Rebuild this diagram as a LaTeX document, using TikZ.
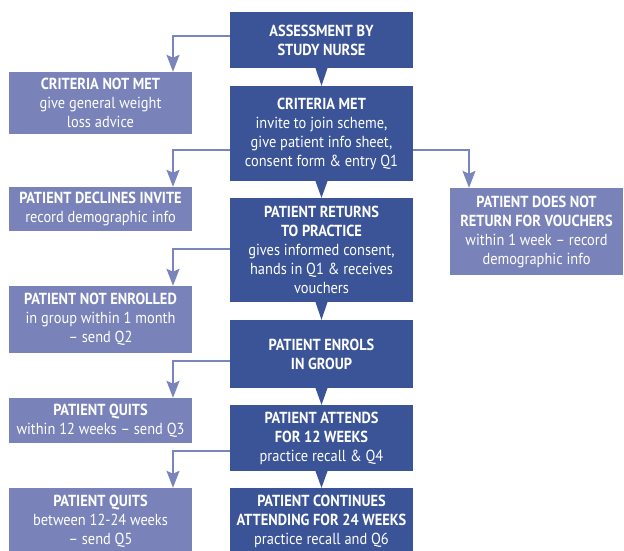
\documentclass[tikz,border=0pt]{standalone}
\usepackage{fontspec}
\setmainfont{PT Sans}[FakeStretch=0.9]
\usetikzlibrary{arrows.meta,calc}
\definecolor{dkb}{RGB}{59,84,152}
\definecolor{ltb}{RGB}{122,131,185}
\definecolor{arr}{RGB}{122,133,190}
\begin{document}
\begin{tikzpicture}[x=1pt,y=-1pt,
  box/.style={minimum width=183pt, inner sep=0pt, align=center, text=white, font=\fontsize{16}{19}\selectfont},
  mainbox/.style={box, fill=dkb},
  sidebox/.style={box, fill=ltb},
  conn/.style={draw=arr, line width=1.8pt, -{Stealth[length=17pt,width=13pt,inset=3pt]}},
  tri/.style={fill=dkb}]
\useasboundingbox (0,0) rectangle (624,551);
% main column
\node[mainbox, minimum height=56pt] (assess) at (321.5,40) {\textbf{ASSESSMENT BY}\\\textbf{STUDY NURSE}};
\node[mainbox, minimum height=95pt] (crit) at (321.5,133.5) {\textbf{CRITERIA MET}\\invite to join scheme,\\give patient info sheet,\\consent form \& entry Q1};
\node[mainbox, minimum height=104pt] (returns) at (321.5,250) {\textbf{PATIENT RETURNS}\\\textbf{TO PRACTICE}\\gives informed consent,\\hands in Q1 \& receives\\vouchers};
\node[mainbox, minimum height=68pt] (enrols) at (321.5,354) {\textbf{PATIENT ENROLS}\\\textbf{IN GROUP}};
\node[mainbox, minimum height=66pt] (attends) at (321.5,438) {\textbf{PATIENT ATTENDS}\\\textbf{FOR 12 WEEKS}\\practice recall \& Q4};
\node[mainbox, minimum height=66pt] (cont) at (321.5,521) {\textbf{PATIENT CONTINUES}\\\textbf{ATTENDING FOR 24 WEEKS}\\practice recall and Q6};
% side boxes
\node[sidebox, minimum height=62pt] (notmet) at (100.5,103) {\textbf{CRITERIA NOT MET}\\give general weight\\loss advice};
\node[sidebox, minimum height=44pt] (declines) at (100.5,209) {\textbf{PATIENT DECLINES INVITE}\\record demographic info};
\node[sidebox, minimum height=67pt] (notenr) at (100.5,319.5) {\textbf{PATIENT NOT ENROLLED}\\in group within 1 month\\– send Q2};
\node[sidebox, minimum height=45pt] (quits1) at (100.5,420.5) {\textbf{PATIENT QUITS}\\within 12 weeks – send Q3};
\node[sidebox, minimum height=66pt] (quits2) at (100.5,521) {\textbf{PATIENT QUITS}\\between 12-24 weeks\\– send Q5};
\node[sidebox, minimum width=173pt, minimum height=87pt] (noret) at (536.5,231.5) {\textbf{PATIENT DOES NOT}\\\textbf{RETURN FOR VOUCHERS}\\within 1 week – record\\demographic info};
% main flow triangles
\foreach \a/\b in {assess/crit, crit/returns, returns/enrols, enrols/attends, attends/cont}{
  \fill[tri] ([xshift=-6pt]\a.south) -- ([xshift=6pt]\a.south) -- (\b.north) -- cycle;
}
% side connectors
\draw[conn] ([yshift=4pt]assess.west) -| ([xshift=72.5pt]notmet.north);
\draw[conn] ([yshift=-16.5pt]crit.west) -| ([xshift=72.5pt]declines.north);
\draw[conn] ([yshift=-16.5pt]crit.east) -| ([xshift=-67.5pt]noret.north);
\draw[conn] ([yshift=1pt]returns.west) -| ([xshift=72.5pt]notenr.north);
\draw[conn] ([yshift=-7pt]enrols.west) -| ([xshift=72.5pt]quits1.north);
\draw[conn] ([yshift=-13pt]attends.west) -| ([xshift=72.5pt]quits2.north);
\end{tikzpicture}
\end{document}
